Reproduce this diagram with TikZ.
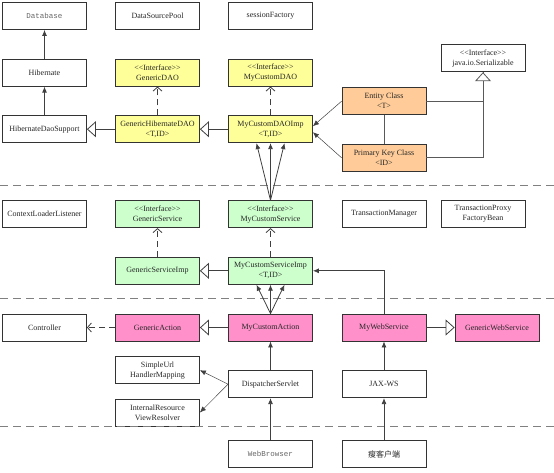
\documentclass[tikz,border=0pt]{standalone}
\usepackage{fontspec}
\setmainfont{Liberation Serif}
\newfontfamily\monofont{Liberation Mono}
\newfontfamily\cjk{Noto Sans CJK SC}
\usetikzlibrary{arrows.meta}
\definecolor{daoyellow}{HTML}{FFFF99}
\definecolor{svcgreen}{HTML}{CCFFCC}
\definecolor{actpink}{HTML}{FF90CA}
\definecolor{beanorange}{HTML}{FFCC99}
\definecolor{linegray}{HTML}{404040}
\newcommand{\iface}{<{}<Interface>{}>}

\begin{document}
\begin{tikzpicture}[
  x=1pt, y=-1pt,
  font=\fontsize{8}{10}\selectfont,
  box/.style={draw=black!80, line width=0.8pt, align=center, inner sep=1pt, minimum width=84pt, minimum height=27pt, text=black!85},
  dao/.style={box, fill=daoyellow},
  svc/.style={box, fill=svcgreen},
  act/.style={box, fill=actpink},
  bean/.style={box, fill=beanorange},
  arrow/.style={-{Latex[length=6pt,width=5pt]}, line width=0.8pt, draw=linegray},
  thinarrow/.style={-{Latex[length=6pt,width=5pt]}, line width=0.5pt, draw=linegray},
  inherit/.style={-{Triangle[open,length=9pt,width=16pt,fill=white]}, line width=0.8pt, draw=linegray},
  realize/.style={-{Straight Barb[length=4pt,width=9pt]}, line width=0.8pt, draw=linegray, dash pattern=on 6pt off 4pt},
  plainline/.style={line width=0.8pt, draw=black!65},
  sep/.style={line width=1.2pt, draw=gray, dash pattern=on 8pt off 5pt}
]
\useasboundingbox (0,0) rectangle (554,472);

\node[box, font=\monofont\fontsize{7.5}{9}\selectfont, text=black!60] (database) at (44.5,16) {Database};
\node[box] (dspool) at (157.5,16) {DataSourcePool};
\node[box] (sessionfactory) at (270.5,16) {sessionFactory};

\node[box] (hibernate) at (44.5,72.7) {Hibernate};
\node[dao] (genericdao) at (157.5,72.7) {\iface\\GenericDAO};
\node[dao] (mycustomdao) at (270.5,72.7) {\iface\\MyCustomDAO};
\node[box] (serializable) at (483,58.3) {\iface\\java.io.Serializable};

\node[bean] (entity) at (384,101.2) {Entity Class\\<T>};
\node[bean] (pkclass) at (384,157.8) {Primary Key Class\\<ID>};

\node[box] (daosupport) at (44.5,129.2) {HibernateDaoSupport};
\node[dao] (generichibdao) at (157.5,129.2) {GenericHibernateDAO\\<T,ID>};
\node[dao] (mycustomdaoimp) at (270.5,129.2) {MyCustomDAOImp\\<T,ID>};

\draw[sep] (0,185.7) -- (554,185.7);

\node[box] (ctxlistener) at (44.5,214.2) {ContextLoaderListener};
\node[svc] (genericservice) at (157.5,214.2) {\iface\\GenericService};
\node[svc] (mycustomservice) at (270.5,214.2) {\iface\\MyCustomService};
\node[box] (txmanager) at (384,214.2) {TransactionManager};
\node[box] (txproxy) at (483,214.2) {TransactionProxy\\FactoryBean};

\node[svc] (genericserviceimp) at (157.5,270.8) {GenericServiceImp};
\node[svc] (mycustomserviceimp) at (270.5,270.8) {MyCustomServiceImp\\<T,ID>};

\draw[sep] (0,298.3) -- (554,298.3);

\node[box] (controller) at (44.5,327.5) {Controller};
\node[act] (genericaction) at (157.5,327.5) {GenericAction};
\node[act] (mycustomaction) at (270.5,327.5) {MyCustomAction};
\node[act] (mywebservice) at (384,327.5) {MyWebService};
\node[act] (genericwebservice) at (497,327.5) {GenericWebService};

\node[box] (simpleurl) at (157.5,370.2) {SimpleUrl\\HandlerMapping};
\node[box] (dispatcher) at (270.5,384.2) {DispatcherServlet};
\node[box] (jaxws) at (384,384.2) {JAX-WS};
\node[box] (viewresolver) at (157.5,412.5) {InternalResource\\ViewResolver};

\draw[sep] (0,426.7) -- (554,426.7);

\node[box, font=\monofont\fontsize{7.5}{9}\selectfont, text=black!60] (webbrowser) at (270.5,454.2) {WebBrowser};
\node[box, font=\cjk\fontsize{8}{10}\selectfont] (thinclient) at (384,454.2) {瘦客户端};

\draw[arrow] (hibernate) -- (database);
\draw[arrow] (daosupport) -- (hibernate);
\draw[inherit] (generichibdao) -- (daosupport);
\draw[realize] (generichibdao) -- (genericdao);
\draw[inherit] (mycustomdaoimp) -- (generichibdao);
\draw[realize] (mycustomdaoimp) -- (mycustomdao);
\draw[thinarrow] (entity.west) -- ([yshift=3pt]mycustomdaoimp.east);
\draw[thinarrow] (pkclass.west) -- ([yshift=-3pt]mycustomdaoimp.east);
\draw[plainline] (entity) -- (pkclass);
\draw[plainline] (pkclass.east) -| (serializable.south);
\draw[inherit, draw=black!65] (entity.east) -| (serializable.south);
\foreach \dx in {-14,0,14}
  \draw[arrow] (mycustomservice.north) -- ([xshift=\dx pt]mycustomdaoimp.south);

\draw[realize] (genericserviceimp) -- (genericservice);
\draw[realize] (mycustomserviceimp) -- (mycustomservice);
\draw[inherit] (mycustomserviceimp) -- (genericserviceimp);
\draw[arrow] (mywebservice.north) |- (mycustomserviceimp.east);
\foreach \dx in {-14,0,14}
  \draw[arrow] (mycustomaction.north) -- ([xshift=\dx pt]mycustomserviceimp.south);

\draw[realize] (genericaction) -- (controller);
\draw[inherit] (mycustomaction) -- (genericaction);
\draw[inherit] (mywebservice) -- (genericwebservice);
\draw[arrow] (dispatcher) -- (mycustomaction);
\draw[thinarrow] (dispatcher.west) -- (simpleurl.east);
\draw[thinarrow] (dispatcher.west) -- (viewresolver.east);
\draw[arrow] (jaxws) -- (mywebservice);
\draw[arrow] (webbrowser) -- (dispatcher);
\draw[arrow] (thinclient) -- (jaxws);

\end{tikzpicture}
\end{document}
